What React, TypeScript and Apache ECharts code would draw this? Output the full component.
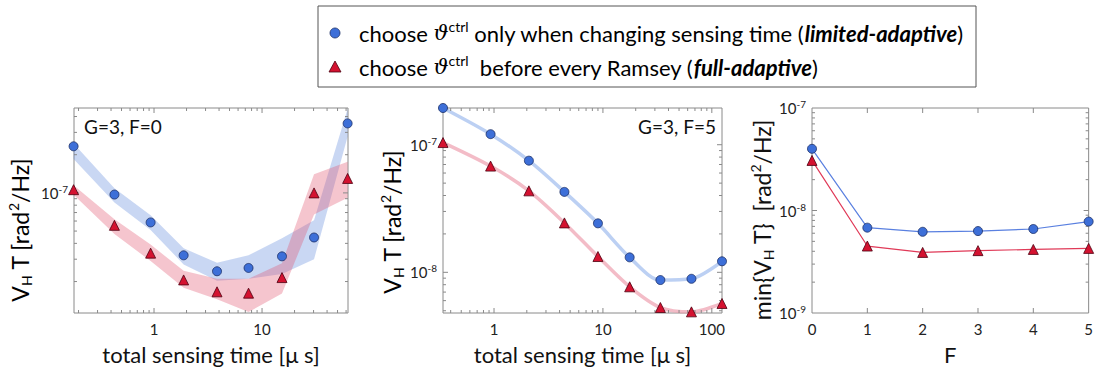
import React, { useEffect, useRef } from 'react';
import * as echarts from 'echarts';

// ---------- data ----------
// Panel 1 (G=3, F=0)
const time1 = [0.18, 0.43, 0.93, 1.88, 3.83, 7.5, 15.3, 30.3, 62];
const limited1 = [2.33e-7, 9.7e-8, 5.85e-8, 3.22e-8, 2.41e-8, 2.56e-8, 3.16e-8, 4.45e-8, 3.53e-7];
const full1 = [1.06e-7, 5.55e-8, 3.35e-8, 2.06e-8, 1.66e-8, 1.62e-8, 2.15e-8, 1.0e-7, 1.3e-7];
const limitedHi1 = [2.45e-7, 1.09e-7, 6.65e-8, 3.66e-8, 2.81e-8, 3.22e-8, 4.38e-8, 6.09e-8, 4.6e-7];
const limitedLo1 = [1.85e-7, 8.4e-8, 5.1e-8, 2.73e-8, 2.03e-8, 2.1e-8, 2.29e-8, 3.0e-8, 2.79e-7];
const fullHi1 = [1.15e-7, 6.2e-8, 3.91e-8, 2.43e-8, 2.1e-8, 2.1e-8, 2.79e-8, 1.4e-7, 1.76e-7];
const fullLo1 = [9.66e-8, 4.75e-8, 2.9e-8, 1.79e-8, 1.45e-8, 1.15e-8, 1.61e-8, 6.77e-8, 9.16e-8];

// Panel 2 (G=3, F=5)
const time2 = [0.34, 0.93, 2.09, 4.43, 9.0, 17.6, 33.7, 65, 124];
const limited2 = [1.94e-7, 1.21e-7, 7.5e-8, 4.27e-8, 2.42e-8, 1.31e-8, 8.7e-9, 8.9e-9, 1.22e-8];
const full2 = [1.04e-7, 6.8e-8, 4.35e-8, 2.44e-8, 1.33e-8, 7.7e-9, 5.3e-9, 4.9e-9, 5.7e-9];

// Panel 3 (min over sensing time vs F)
const fValues = [0, 1, 2, 3, 4, 5];
const limited3 = [4.0e-8, 6.8e-9, 6.2e-9, 6.3e-9, 6.6e-9, 7.8e-9];
const full3 = [3.08e-8, 4.5e-9, 3.9e-9, 4.06e-9, 4.17e-9, 4.27e-9];

// axis ranges
const X1 = [0.1816, 62.5];
const Y1 = [1.13e-8, 4.67e-7];
const X2 = [0.34, 124];
const Y2 = [4.8e-9, 1.94e-7];
const X3 = [0, 5];
const Y3 = [1e-9, 1e-7];

const FONT = 'Lato, "Open Sans", sans-serif';
const BLUE = '#3d6fd8';
const RED = '#d41230';

function logTicks(min: number, max: number) {
  const out: { v: number; major: number }[] = [];
  for (let d = Math.floor(Math.log10(min)); d <= Math.ceil(Math.log10(max)); d++) {
    for (let m = 1; m <= 9; m++) {
      const v = m * Math.pow(10, d);
      if (v > min * 1.001 && v < max * 0.999) out.push({ v, major: m === 1 ? 1 : 0 });
    }
  }
  return out;
}

function tickSeries(idx: number, xr: number[], yr: number[], xt: { v: number; major: number }[], yt: { v: number; major: number }[]) {
  const data: any[] = [];
  xt.forEach((t) => data.push({ value: [t.v, yr[0], 0, t.major] }));
  yt.forEach((t) => data.push({ value: [xr[0], t.v, 1, t.major] }));
  return {
    type: 'custom',
    xAxisIndex: idx,
    yAxisIndex: idx,
    silent: true,
    z: 5,
    data,
    renderItem: (params: any, api: any) => {
      const cs = params.coordSys;
      const kind = api.value(2);
      const len = api.value(3) ? 5 : 3;
      const st = { stroke: '#8a8a8a', lineWidth: 1 };
      if (kind === 0) {
        const px = api.coord([api.value(0), api.value(1)])[0];
        return {
          type: 'group',
          children: [
            { type: 'line', shape: { x1: px, y1: cs.y + cs.height, x2: px, y2: cs.y + cs.height - len }, style: st },
            { type: 'line', shape: { x1: px, y1: cs.y, x2: px, y2: cs.y + len }, style: st },
          ],
        };
      }
      const py = api.coord([api.value(0), api.value(1)])[1];
      return {
        type: 'group',
        children: [
          { type: 'line', shape: { x1: cs.x, y1: py, x2: cs.x + len, y2: py }, style: st },
          { type: 'line', shape: { x1: cs.x + cs.width, y1: py, x2: cs.x + cs.width - len, y2: py }, style: st },
        ],
      };
    },
  };
}

function bandSeries(idx: number, xs: number[], lo: number[], hi: number[], color: string, z: number) {
  return {
    type: 'custom',
    xAxisIndex: idx,
    yAxisIndex: idx,
    silent: true,
    z,
    data: [[xs[0], lo[0]]],
    renderItem: (_p: any, api: any) => {
      const pts: number[][] = [];
      for (let i = 0; i < xs.length; i++) pts.push(api.coord([xs[i], hi[i]]));
      for (let i = xs.length - 1; i >= 0; i--) pts.push(api.coord([xs[i], lo[i]]));
      return { type: 'polygon', shape: { points: pts }, style: { fill: color } };
    },
  };
}

const powLabel = (v: number) => {
  const e = Math.log10(v);
  const r = Math.round(e);
  if (Math.abs(e - r) > 1e-4) return '';
  return '{b|10}{s|' + r + '}';
};
const numLabel = (v: number) => {
  const e = Math.log10(v);
  const r = Math.round(e);
  if (Math.abs(e - r) > 1e-4) return '';
  return String(Math.round(Math.pow(10, r)));
};

const yLabelStyle = {
  formatter: powLabel,
  margin: 6,
  rich: {
    b: { fontFamily: FONT, fontSize: 15, color: '#222', lineHeight: 18 },
    s: { fontFamily: FONT, fontSize: 10, color: '#222', verticalAlign: 'top', lineHeight: 18 },
  },
};

const hidden = { axisLine: { show: false }, axisTick: { show: false }, splitLine: { show: false } };

function scatter(idx: number, xs: number[], ys: number[], kind: 'circle' | 'triangle') {
  return {
    type: 'scatter',
    xAxisIndex: idx,
    yAxisIndex: idx,
    clip: false,
    z: 10,
    symbol: kind,
    symbolSize: kind === 'circle' ? 9 : 10,
    itemStyle: {
      color: kind === 'circle' ? BLUE : RED,
      borderColor: kind === 'circle' ? '#1c2f66' : '#4d0010',
      borderWidth: 0.8,
      opacity: 1,
    },
    data: xs.map((x, i) => [x, ys[i]]),
  };
}

const titleRich = (size: number) => ({
  n: { fontFamily: FONT, fontSize: size, color: '#111' },
  sub: { fontFamily: FONT, fontSize: Math.round(size * 0.62), color: '#111', verticalAlign: 'bottom', lineHeight: size + 4 },
  sup: { fontFamily: FONT, fontSize: Math.round(size * 0.62), color: '#111', verticalAlign: 'top', lineHeight: size + 4 },
});

const legendRich = {
  a: { fontFamily: FONT, fontSize: 22, color: '#111', lineHeight: 28 },
  th: { fontFamily: '"DejaVu Serif", serif', fontStyle: 'italic', fontSize: 21, color: '#111', lineHeight: 28 },
  sup: { fontFamily: FONT, fontSize: 14, color: '#111', verticalAlign: 'top', lineHeight: 28 },
  b: { fontFamily: FONT, fontSize: 22, fontWeight: 'bold', fontStyle: 'italic', color: '#111', lineHeight: 28 },
};

const option: any = {
  animation: false,
  backgroundColor: '#fff',
  grid: [
    { left: 74, top: 108, width: 274, height: 210, show: true, borderColor: '#8a8a8a', borderWidth: 1 },
    { left: 443, top: 108, width: 279, height: 209, show: true, borderColor: '#8a8a8a', borderWidth: 1 },
    { left: 812, top: 108, width: 277, height: 209, show: true, borderColor: '#8a8a8a', borderWidth: 1 },
  ],
  xAxis: [
    {
      gridIndex: 0, type: 'log', logBase: 10, min: X1[0], max: X1[1], ...hidden,
      axisLabel: { formatter: numLabel, fontFamily: FONT, fontSize: 15, color: '#222', margin: 8 },
      name: 'total sensing time [μ s]', nameLocation: 'middle', nameGap: 30,
      nameTextStyle: { fontFamily: FONT, fontSize: 22, color: '#111' },
    },
    {
      gridIndex: 1, type: 'log', logBase: 10, min: X2[0], max: X2[1], ...hidden,
      axisLabel: { formatter: numLabel, fontFamily: FONT, fontSize: 15, color: '#222', margin: 8 },
      name: 'total sensing time [μ s]', nameLocation: 'middle', nameGap: 30,
      nameTextStyle: { fontFamily: FONT, fontSize: 22, color: '#111' },
    },
    {
      gridIndex: 2, type: 'value', min: X3[0], max: X3[1], interval: 1, ...hidden,
      axisLabel: { fontFamily: FONT, fontSize: 15, color: '#222', margin: 8 },
      name: 'F', nameLocation: 'middle', nameGap: 30,
      nameTextStyle: { fontFamily: FONT, fontSize: 22, color: '#111' },
    },
  ],
  yAxis: [
    { gridIndex: 0, type: 'log', logBase: 10, min: Y1[0], max: Y1[1], ...hidden, axisLabel: yLabelStyle },
    { gridIndex: 1, type: 'log', logBase: 10, min: Y2[0], max: Y2[1], ...hidden, axisLabel: yLabelStyle },
    { gridIndex: 2, type: 'log', logBase: 10, min: Y3[0], max: Y3[1], ...hidden, axisLabel: yLabelStyle },
  ],
  graphic: [
    { type: 'rect', shape: { x: 318, y: 6, width: 658, height: 81 }, style: { fill: '#fff', stroke: '#555', lineWidth: 1 } },
    { type: 'circle', shape: { cx: 335, cy: 33, r: 5 }, style: { fill: BLUE, stroke: '#1c2f66', lineWidth: 0.8 } },
    { type: 'polygon', shape: { points: [[335, 61], [341, 72], [329, 72]] }, style: { fill: RED, stroke: '#4d0010', lineWidth: 0.8 } },
    {
      type: 'text', x: 359, y: 33,
      style: {
        text: '{a|choose }{th|ϑ}{sup|ctrl}{a| only when changing sensing time (}{b|limited-adaptive}{a|)}',
        rich: legendRich, verticalAlign: 'middle', align: 'left',
      },
    },
    {
      type: 'text', x: 359, y: 67,
      style: {
        text: '{a|choose }{th|ϑ}{sup|ctrl}{a|  before every Ramsey (}{b|full-adaptive}{a|)}',
        rich: legendRich, verticalAlign: 'middle', align: 'left',
      },
    },
    { type: 'text', x: 84, y: 126, style: { text: 'G=3, F=0', fontFamily: FONT, fontSize: 19, fill: '#111', verticalAlign: 'middle' } },
    { type: 'text', x: 716, y: 126, style: { text: 'G=3, F=5', fontFamily: FONT, fontSize: 19, fill: '#111', verticalAlign: 'middle', align: 'right' } },
    {
      type: 'text', x: 20, y: 230, rotation: Math.PI / 2,
      style: { text: '{n|V}{sub|H}{n| T [rad}{sup|2}{n|/Hz]}', rich: titleRich(23), align: 'center', verticalAlign: 'middle' },
    },
    {
      type: 'text', x: 392, y: 222, rotation: Math.PI / 2,
      style: { text: '{n|V}{sub|H}{n| T [rad}{sup|2}{n|/Hz]}', rich: titleRich(23), align: 'center', verticalAlign: 'middle' },
    },
    {
      type: 'text', x: 762, y: 220, rotation: Math.PI / 2,
      style: {
        text: '{n|min{V}{sub|H}{n| T}}{n|  [rad}{sup|2}{n|/Hz]}',
        fontFamily: FONT, fontSize: 23, fill: '#111',
        rich: titleRich(23), align: 'center', verticalAlign: 'middle',
      },
    },
  ],
  series: [
    // panel 1
    bandSeries(0, time1, limitedLo1, limitedHi1, 'rgba(100,140,220,0.35)', 2),
    bandSeries(0, time1, fullLo1, fullHi1, 'rgba(225,80,105,0.33)', 3),
    scatter(0, time1, limited1, 'circle'),
    scatter(0, time1, full1, 'triangle'),
    tickSeries(0, X1, Y1, logTicks(X1[0], X1[1]), logTicks(Y1[0], Y1[1])),
    // panel 2
    {
      type: 'line', xAxisIndex: 1, yAxisIndex: 1, smooth: 0.3, showSymbol: false, z: 3,
      lineStyle: { width: 3.5, color: 'rgba(160,188,238,0.7)' },
      data: time2.map((x, i) => [x, limited2[i]]),
    },
    {
      type: 'line', xAxisIndex: 1, yAxisIndex: 1, smooth: 0.3, showSymbol: false, z: 3,
      lineStyle: { width: 3.5, color: 'rgba(238,160,175,0.7)' },
      data: time2.map((x, i) => [x, full2[i]]),
    },
    scatter(1, time2, limited2, 'circle'),
    scatter(1, time2, full2, 'triangle'),
    tickSeries(1, X2, Y2, logTicks(X2[0], X2[1]), logTicks(Y2[0], Y2[1])),
    // panel 3
    {
      type: 'line', xAxisIndex: 2, yAxisIndex: 2, z: 3, symbol: 'none',
      lineStyle: { width: 1.2, color: '#5a80e0' },
      data: fValues.map((x, i) => [x, limited3[i]]),
    },
    {
      type: 'line', xAxisIndex: 2, yAxisIndex: 2, z: 3, symbol: 'none',
      lineStyle: { width: 1.2, color: '#e03a58' },
      data: fValues.map((x, i) => [x, full3[i]]),
    },
    scatter(2, fValues, limited3, 'circle'),
    scatter(2, fValues, full3, 'triangle'),
    tickSeries(2, X3, Y3, [1, 2, 3, 4].map((v) => ({ v, major: 1 })), logTicks(Y3[0], Y3[1])),
  ],
};

export default function App() {
  const ref = useRef<HTMLDivElement>(null);
  useEffect(() => {
    const chart = echarts.init(ref.current as HTMLDivElement, null, { renderer: 'svg' });
    chart.setOption(option);
    return () => chart.dispose();
  }, []);
  return (
    <div
      ref={ref}
      style={{ position: 'fixed', left: 0, top: 0, width: 1096, height: 370, background: '#fff' }}
    />
  );
}
